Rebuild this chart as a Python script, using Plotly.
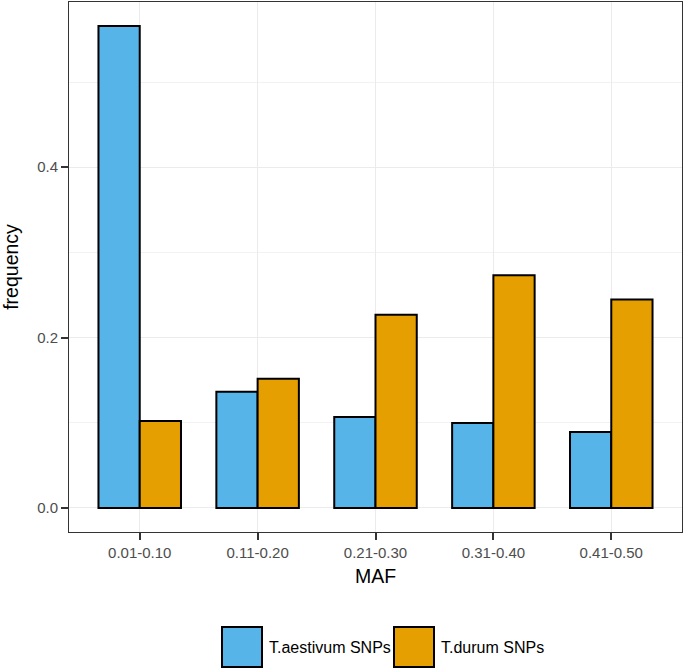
import plotly.graph_objects as go

categories = ["0.01-0.10", "0.11-0.20", "0.21-0.30", "0.31-0.40", "0.41-0.50"]
aestivum = [0.5657, 0.1364, 0.1067, 0.0996, 0.0891]
durum = [0.1021, 0.1515, 0.2268, 0.2732, 0.2448]
series_names = ["T.aestivum SNPs", "T.durum SNPs"]
colors = ["#56B4E9", "#E69F00"]
y_ticks = [0.0, 0.2, 0.4]
y_ticklabels = ["0.0", "0.2", "0.4"]

FONT = "Liberation Sans, Arial, Helvetica, sans-serif"

fig = go.Figure()
for name, vals, col in zip(series_names, [aestivum, durum], colors):
    fig.add_trace(go.Bar(
        x=categories, y=vals, name=name,
        marker=dict(color=col, line=dict(color="black", width=2)),
        showlegend=False,
    ))

ymax = max(max(aestivum), max(durum))
pad = 0.05 * ymax

L, R, T, B = 69, 3, 2, 138
fig.update_layout(
    width=685, height=670,
    margin=dict(l=L, r=R, t=T, b=B),
    paper_bgcolor="white", plot_bgcolor="white",
    barmode="group", bargap=0.3, bargroupgap=0,
    font=dict(family=FONT, color="black"),
    xaxis=dict(
        range=[-0.6, len(categories) - 0.4],
        automargin=False,
        showgrid=True, gridcolor="#EBEBEB", gridwidth=1.1,
        ticks="outside", ticklen=7, tickwidth=1.5, tickcolor="#333333",
        tickfont=dict(size=15, color="#4D4D4D", family=FONT),
        showline=True, linecolor="#333333", linewidth=1, mirror=True,
        title=dict(text="MAF", font=dict(size=19.5, color="black", family=FONT), standoff=9),
        zeroline=False,
    ),
    yaxis=dict(
        range=[-pad, ymax + pad],
        automargin=False,
        tickvals=y_ticks, ticktext=y_ticklabels,
        showgrid=True, gridcolor="#EBEBEB", gridwidth=1.1,
        minor=dict(tickvals=[0.1, 0.3, 0.5], showgrid=True, gridcolor="#F2F2F2", gridwidth=0.6, ticks=""),
        ticks="outside", ticklen=7, tickwidth=1.5, tickcolor="#333333",
        tickfont=dict(size=15, color="#4D4D4D", family=FONT),
        showline=True, linecolor="#333333", linewidth=1, mirror=True,
        title=dict(text="frequency", font=dict(size=19.5, color="black", family=FONT), standoff=15),
        zeroline=False,
    ),
)

# Custom legend (large keys, as in the reference)
legend_items = [
    (222, 262, 269, series_names[0], colors[0]),
    (394, 434, 441, series_names[1], colors[1]),
]
W, H = 685, 670
pw, ph = W - L - R, H - T - B
for x0, x1, tx, label, col in legend_items:
    fig.add_shape(type="rect", xref="paper", yref="paper",
                  x0=(x0 - L) / pw, x1=(x1 - L) / pw,
                  y0=-(667 - (H - B)) / ph, y1=-(627 - (H - B)) / ph,
                  fillcolor=col, line=dict(color="black", width=2))
    fig.add_annotation(xref="paper", yref="paper",
                       x=(tx - L) / pw, y=-(647 - (H - B)) / ph,
                       text=label, showarrow=False, xanchor="left", yanchor="middle",
                       xshift=-2,
                       font=dict(size=16, color="black", family=FONT))

fig.write_html("out.html", config={"displayModeBar": False},
               post_script="document.body.style.margin='0';")
